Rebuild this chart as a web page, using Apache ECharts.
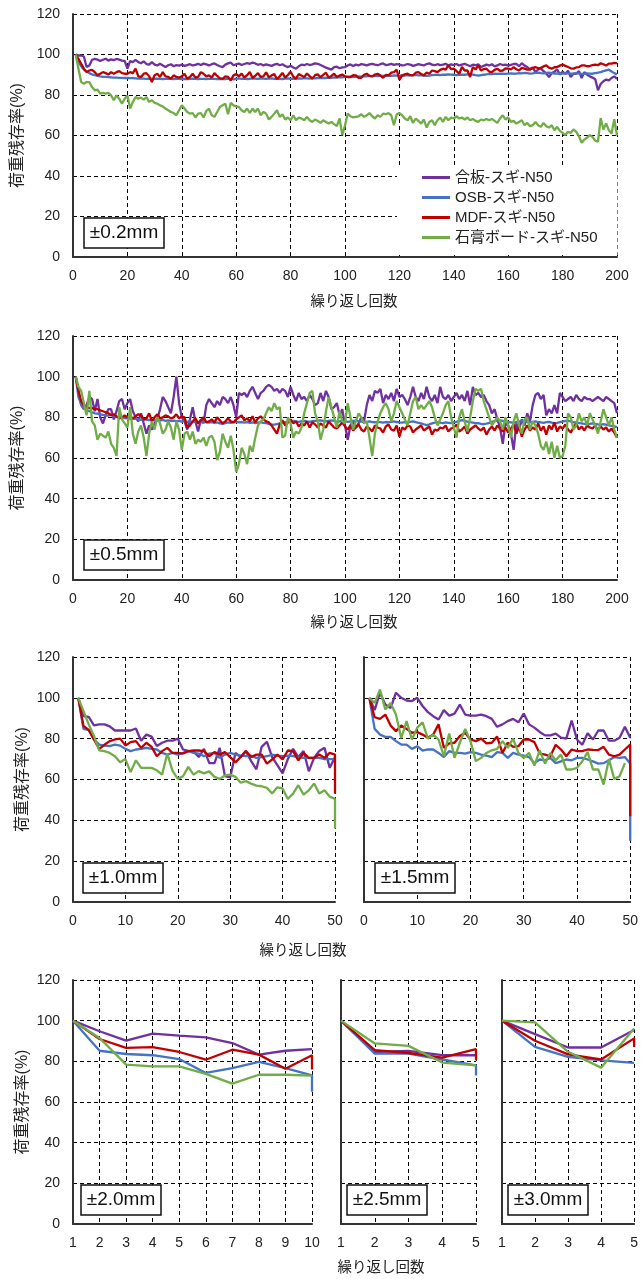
<!DOCTYPE html>
<html>
<head>
<meta charset="utf-8">
<title>荷重残存率</title>
<script src="https://cdn.jsdelivr.net/npm/echarts@6/dist/echarts.min.js"></script>
<style>
  html, body { margin: 0; padding: 0; background: #fff; }
  #chart { width: 641px; height: 1279px; }
</style>
</head>
<body>
<div id="chart"></div>
<script>
// 系列名と色（合板 / OSB / MDF / 石膏ボード）
var seriesNames = ['合板-スギ-N50', 'OSB-スギ-N50', 'MDF-スギ-N50', '石膏ボード-スギ-N50'];
var colors = ['#7030A0', '#4472C4', '#C00000', '#70AD47'];
var panelLabels = ['±0.2mm', '±0.5mm', '±1.0mm', '±1.5mm', '±2.0mm', '±2.5mm', '±3.0mm'];
var yName = '荷重残存率(%)';
var xName = '繰り返し回数';

// ±0.2mm (1〜200回)
var p02Gouhan = [
  100, 99.5, 99.5, 99, 93.8, 94.6, 97.4, 97.8, 97.5, 96.8,
  97.4, 97.9, 97, 97.6, 97.2, 97.8, 97.5, 97, 96.8, 93,
  96.7, 96.2, 97.3, 96.2, 95.7, 96.6, 95.3, 95, 96.2, 95,
  94.6, 95.4, 94.6, 93.8, 94.7, 95.2, 94.2, 94.8, 94.5, 95,
  94.4, 94.8, 95.2, 94.6, 94.9, 95.4, 94.8, 95.5, 95.1, 94.6,
  95.2, 95.6, 94.8, 94.2, 93.8, 95, 95.6, 96, 94.7, 95.2,
  95.5, 94.8, 95.3, 95.7, 95.4, 96, 95.6, 94.9, 95.3, 94.6,
  95.1, 94.8, 94.4, 95, 95.4, 94.7, 95.2, 94.3, 93.8, 94.4,
  93.6, 93, 94.2, 95, 94.7, 95.3, 94.8, 95.1, 95.6, 95.4,
  94.8, 94.2, 93.5, 93, 92.5, 93.8, 94, 93.2, 93.6, 93.8,
  94.6, 95.1, 94.3, 95, 94.6, 95.3, 95, 94.6, 95.1, 95.4,
  95, 94.7, 95.2, 95.6, 94.8, 95, 95.4, 94.9, 95.2, 95,
  94.6, 94.8, 95.3, 95, 94.4, 94.8, 95.2, 94.9, 94.6, 95.3,
  95.6, 95, 94.7, 95.2, 94.8, 95, 95.4, 94.6, 95.1, 94.8,
  95.3, 94.6, 95, 95.4, 94.8, 94.2, 95, 94.7, 95.2, 93.8,
  94.4, 95, 94.6, 95.2, 94.1, 94.6, 95.3, 94.8, 95, 94.5,
  94.9, 95.3, 95.4, 94.2, 95.7, 94.5, 93.8, 92.8, 93.6, 91.3,
  92.6, 93, 91.8, 90.6, 88.9, 90.8, 91.5, 92.6, 90.2, 91.5,
  90.4, 92, 88.9, 90.5, 90.5, 91.8, 88.4, 91.3, 90, 89.2,
  88.6, 87.8, 82.3, 85.4, 86.8, 87.6, 87.2, 88.4, 89.2, 88
];
var p02Osb = [
  100, 96.5, 94.2, 92.6, 91.6, 90.8, 90.2, 89.8, 89.5, 89.2,
  89, 88.9, 88.8, 88.7, 88.6, 88.6, 88.5, 88.5, 88.4, 88.4,
  88.3, 88.3, 88.2, 88.1, 88.2, 88.1, 88, 88.1, 88, 88,
  88.1, 88, 87.9, 88, 88.1, 88, 87.9, 88, 88, 87.9,
  88, 87.9, 88, 88.1, 88, 87.9, 88, 88, 87.9, 88,
  88.1, 88, 87.8, 87.9, 88, 87.8, 88.1, 88, 87.7, 88,
  88.2, 88, 88.1, 87.9, 88, 88.2, 88.1, 88, 88.2, 88.1,
  88, 88.1, 88.2, 88, 88.1, 88, 87.9, 88.1, 88.2, 88,
  88.1, 88, 88.2, 88.1, 88.3, 88.2, 88.1, 88.3, 88.2, 88.4,
  88.3, 88.5, 88.4, 88.6, 88.5, 88.7, 88.6, 88.8, 88.7, 88.9,
  89, 88.9, 89.1, 89, 89.2, 89.1, 89.3, 89.2, 89.4, 89.3,
  89.4, 89.3, 89.5, 89.4, 89.5, 89.6, 89.5, 89.7, 89.6, 89.6,
  89.7, 89.6, 89.8, 89.7, 89.8, 89.9, 89.7, 89.8, 89.6, 89.4,
  89.6, 89.8, 89.9, 90, 89.8, 90.1, 90, 90.2, 90.1, 90,
  89.8, 89.9, 90.1, 90, 90.2, 90.3, 90.1, 89.8, 89.6, 89.8,
  90, 90.2, 90.4, 90.3, 90.5, 90.4, 90.6, 90.5, 90.4, 90.6,
  90.7, 90.5, 90.6, 90.8, 90.7, 90.9, 90.8, 90.6, 90.7, 90.9,
  91, 90.8, 90.7, 90.9, 91, 90.8, 90.6, 90.7, 90.5, 90.6,
  90.8, 90.7, 90.5, 90.6, 90.8, 90.6, 90.4, 90.5, 90.7, 90.6,
  90.5, 90.8, 91, 91.3, 91.8, 92.2, 92.5, 91.6, 90.8, 90.2
];
var p02Mdf = [
  100, 97.9, 95.4, 93, 91.3, 92.1, 92.4, 91.3, 89.7, 90.5,
  91.3, 90.8, 90.1, 91.3, 90.5, 91.3, 91.8, 90.8, 90.5, 90.5,
  91.3, 90.8, 93, 89.2, 88.9, 90.5, 90.8, 89.2, 86.4, 89.8,
  90.5, 88.9, 91.3, 89.2, 88.9, 88, 89.7, 88.9, 88.6, 89.2,
  90.5, 88, 88.9, 90.5, 88.6, 88.9, 91.3, 90.5, 89.2, 89.7,
  88.6, 90.8, 89.4, 88.2, 88, 89.2, 88.9, 87.2, 89.7, 90.3,
  89.2, 90.6, 88.6, 89.8, 91.4, 88.4, 89.5, 90.8, 88.9, 89.2,
  91.2, 88.7, 89.6, 90.4, 87.8, 89.3, 90.9, 88.6, 89.9, 91.5,
  89, 88.2, 90.3, 89.6, 88.8, 90.6, 89.3, 88.1, 89.8, 90.2,
  88.8, 89.9, 91, 88.6, 89.4, 90.5, 88.9, 89.6, 90.1, 89.2,
  88.9, 88.9, 89.8, 89.7, 88.5, 88.5, 90, 90.5, 89.4, 89.2,
  90.1, 90.5, 89.6, 88.5, 89.9, 89.7, 91, 91.3, 92.5, 87.5,
  89.7, 90.2, 90.5, 89.8, 89.7, 91, 91.3, 90.4, 89.7, 91.1,
  90.5, 92.1, 91.8, 91.3, 92.4, 93, 92.5, 94.6, 92.8, 93,
  91.8, 90.5, 93.8, 92.1, 92.1, 88.9, 93.8, 92.6, 94.6, 92.1,
  92.8, 93, 91.6, 91.3, 92.4, 93, 91.9, 92.1, 93.2, 93,
  92.6, 93.8, 92.7, 92.1, 93.4, 93, 92.5, 92.5, 93.3, 93.8,
  93.2, 93.4, 94.1, 94.6, 93.5, 93, 93.7, 93.8, 94.5, 95,
  94.4, 93.8, 93.2, 93, 93.6, 93.8, 94.6, 94.6, 94.2, 94.3,
  94.8, 95, 94.7, 95.7, 95.2, 94.6, 95.5, 95.5, 95.9, 95.7
];
var p02Sekko = [
  100, 93, 86.4, 85.6, 86.4, 86.4, 83.9, 82.3, 82.6, 80.7,
  81, 80.7, 81, 79.8, 77.4, 79.8, 78.2, 75.7, 78.2, 79.8,
  73.3, 76.6, 79, 78.2, 78.7, 77.7, 79, 76.6, 77.4, 76.1,
  75.7, 74.9, 74.4, 73.3, 72.5, 71.6, 71.1, 70, 72.5, 74.9,
  73.3, 71.6, 70.8, 71.1, 68.9, 70.8, 71.1, 68.9, 72.1, 73.3,
  70, 69.2, 71.6, 74.1, 74.9, 75.7, 70.5, 76.1, 74.9, 74.4,
  74.1, 72.5, 71.6, 73.3, 71.1, 73.3, 71.6, 73.3, 70, 71.6,
  70.8, 67.9, 69.2, 70.8, 72.5, 69.2, 70.5, 67.9, 68.9, 67.5,
  70, 67.5, 68.9, 68.4, 67.5, 69.2, 67.5, 66.7, 67.9, 67.2,
  66.2, 67.5, 66.7, 65.9, 66.7, 65.6, 64.6, 68.4, 60.2, 65,
  70.8, 69.5, 68.9, 69.2, 69.5, 70.5, 69.2, 70, 71.1, 69.5,
  68.4, 70, 69.2, 70.8, 70.5, 71.1, 70, 65.1, 70.5, 71.1,
  70, 68.4, 67.5, 69.5, 66.2, 68.4, 67.2, 65.9, 67.9, 63.9,
  66.7, 67.5, 65.1, 67.5, 68.9, 66.7, 69.2, 67.5, 68.9, 68.4,
  69.5, 68.4, 68.9, 67.9, 68.9, 67.5, 68.2, 67.2, 66.7, 67.9,
  67.5, 68.2, 67.5, 68.2, 67.2, 66.2, 68.4, 70, 67.9, 68.9,
  66.7, 67.2, 65.9, 66.7, 67.5, 65.1, 66.2, 64.6, 65.1, 66.7,
  65.1, 64.3, 66.2, 64.6, 63.9, 65.1, 62.6, 64.3, 62.3, 61.3,
  60.2, 61.8, 61.3, 63, 61.8, 59.7, 56.4, 58, 59, 60.2,
  59.3, 57.4, 57, 68.6, 63, 66, 62.6, 61, 68, 60
];

// ±0.5mm (1〜200回)
var p05Gouhan = [
  100, 93, 86, 84, 86, 90, 89, 83, 89, 80,
  77, 81, 84, 84, 79, 83, 88, 89, 84, 87,
  89, 83, 80, 78, 82, 77, 72, 76, 74, 77,
  79, 84, 90, 88, 85, 82, 90, 100, 87, 80,
  78, 74, 79, 85, 78, 73, 79, 77, 86, 89,
  87, 85, 88, 86, 90, 89, 87, 90, 86, 80,
  92, 91, 92, 90, 93, 95, 92, 89, 92, 93,
  95, 96, 95, 93, 94, 92, 94, 93, 90, 95,
  91, 88, 92, 89, 90, 88, 91, 89, 86, 87,
  92, 88, 93, 90, 84, 85, 87, 81, 84, 76,
  69, 76, 78, 75, 77, 80, 78, 86, 91, 88,
  93, 92, 94, 87, 91, 89, 92, 88, 94, 90,
  91, 89, 86, 90, 95, 90, 88, 92, 89, 95,
  90, 88, 91, 87, 95, 90, 89, 91, 88, 90,
  92, 89, 91, 88, 93, 86, 95, 91, 92, 90,
  91, 88, 86, 82, 84, 79, 75, 67, 77, 76,
  72, 64, 77, 74, 79, 76, 82, 78, 86, 91,
  92, 89, 91, 81, 84, 82, 86, 82, 92, 90,
  88, 89, 90, 88, 91, 89, 88, 90, 89, 89,
  88, 89, 90, 89, 88, 90, 89, 88, 87, 82
];
var p05Osb = [
  100, 90, 86.5, 84.5, 83.5, 83, 82.5, 82, 81.8, 81.5,
  81.2, 81, 80.8, 81.5, 80.6, 80.2, 80, 79.8, 79.6, 79.5,
  79.4, 79.2, 79.3, 79, 78.8, 79, 78.9, 78.6, 78.8, 78.5,
  78.6, 78.4, 78.7, 78.3, 78.5, 78.2, 78.4, 78.1, 78.3, 77.9,
  78.2, 77.8, 78.1, 77.6, 78, 77.8, 77.5, 77.9, 77.7, 77.4,
  77.6, 77.3, 77.5, 77, 76.8, 77.2, 77.5, 77.3, 77.6, 77.8,
  77.5, 77.7, 77.4, 77.6, 77.3, 77.5, 77.2, 77.4, 77.6, 77.3,
  77.1, 76.8, 76.5, 76.4, 76.7, 77, 77.3, 77.6, 77.8, 78,
  78.2, 78, 77.8, 78.1, 78.3, 78, 77.8, 78.1, 78.3, 78.4,
  78.5, 78.2, 78, 78.3, 78.5, 78.2, 77.8, 78, 78.2, 78,
  77.8, 78, 78.2, 78.4, 78.1, 77.9, 77.6, 77.8, 78, 77.7,
  77.5, 77.8, 77.6, 77.4, 77.7, 77.5, 77.8, 78, 77.7, 77.5,
  77.4, 77.6, 77.5, 77.8, 78, 77.6, 77.3, 77, 76.6, 76.2,
  76.5, 77, 77.4, 77.6, 77.4, 77.2, 77.5, 77.3, 77.1, 77.6,
  77.8, 78.3, 78.6, 78.2, 77.9, 77.6, 77.4, 77.2, 77.1, 76.8,
  76.6, 76.9, 77.3, 77.8, 78.1, 78.4, 78.5, 78.2, 78, 77.7,
  77.5, 77.3, 77.6, 77.9, 78.2, 78, 77.7, 77.5, 77.8, 78,
  77.7, 77.5, 77.3, 77.6, 77.8, 77.4, 77.1, 77.3, 77.6, 77.9,
  78.2, 78.4, 78, 77.7, 77.4, 77.2, 77, 76.8, 76.6, 76.8,
  77, 76.8, 76.5, 76.3, 76.6, 76.4, 76, 75.8, 75.5, 75.2
];
var p05Mdf = [
  100, 93, 88, 86, 85, 84.5, 84.5, 84, 84, 83.5,
  83, 82.5, 82, 81, 81.5, 80.5, 79.5, 80, 81, 80,
  80.5, 79.5, 80.5, 81.5, 81, 79, 79.5, 82, 78, 80,
  81.5, 79.5, 80, 81, 80.5, 79.5, 80, 81.5, 79.5, 80.5,
  80, 75, 76, 78, 79.5, 77, 78.5, 80, 77.5, 78,
  79, 77.5, 80, 78.5, 77, 78, 79.5, 78, 77.5, 79,
  80, 81, 78.5, 79.5, 78, 80.5, 77.5, 79.5, 80.5, 79,
  78, 77.5, 76, 74, 72, 76.5, 78.5, 76, 77.5, 79,
  77, 78, 75.5, 77, 76, 78, 75, 77.5, 76.5, 75,
  77, 76, 75, 78, 76.5, 75, 74.5, 76, 77.5, 75.5,
  74, 76, 73.5, 75, 76.5, 74, 73, 75.5, 74.5, 73,
  76, 75, 74.5, 72.5, 75.5, 76.5, 74, 73.5, 76, 70.5,
  75, 74, 76, 75.5, 72.5, 74, 75, 76, 73.5, 74.5,
  75.5, 71.5, 74, 73.5, 75, 74.5, 76, 73, 74.5, 75,
  76.5, 73, 74, 75.5, 72, 74, 75, 76, 74.5, 73.5,
  75, 71.5, 74, 75.5, 73.5, 76, 74.5, 73, 75, 72.5,
  74.5, 76.5, 72, 75.5, 70.5, 74, 76, 73.5, 75, 74,
  77, 73.5, 75.5, 71.5, 76, 74, 77.5, 73, 75.5, 74.5,
  76.5, 74, 72.5, 75, 77, 74, 75.5, 73.5, 76, 75,
  74.5, 76, 73.5, 75.5, 74, 75, 73, 74.5, 72.5, 70
];
var p05Sekko = [
  100, 95, 93, 87, 81, 93, 78, 76, 69, 72,
  71, 70, 73, 67, 65, 61, 85, 79, 77, 75,
  85, 72, 67, 73, 76, 70, 61, 72, 78, 74,
  80, 77, 72, 74, 78, 75, 69, 78, 74, 64,
  72, 73, 69, 73, 67, 69, 68, 70, 66, 70,
  71, 68, 59, 63, 72, 68, 65, 71, 64, 53,
  57, 65, 62, 57, 66, 63, 70, 76, 78, 79,
  82, 85, 83, 87, 84, 85, 70, 71, 80, 77,
  70, 73, 72, 75, 82, 87, 92, 93, 82, 78,
  69, 74, 83, 90, 85, 80, 75, 83, 78, 77,
  87, 80, 74, 78, 82, 80, 77, 78, 70, 61,
  72, 78, 82, 85, 87, 84, 78, 82, 88, 85,
  82, 79, 76, 82, 88, 90, 84, 86, 84, 86,
  88, 85, 80, 76, 79, 82, 86, 88, 80, 75,
  70, 80, 84, 78, 73, 80, 88, 94, 93, 94,
  88, 84, 80, 76, 78, 80, 78, 74, 80, 76,
  70, 78, 82, 76, 72, 79, 80, 74, 78, 76,
  72, 66, 64, 68, 62, 68, 60, 66, 60, 61,
  66, 82, 80, 74, 76, 82, 78, 80, 76, 82,
  79, 76, 72, 78, 84, 80, 76, 80, 74, 70
];

// ±1.0mm (1〜50回)
var p10Gouhan = [
  100, 91, 90.7, 86.5, 87, 87, 86, 84, 84, 84,
  84, 85, 79, 82, 81, 76.4, 78, 79, 79, 80,
  74.7, 74, 73.7, 71, 75, 68, 68, 75.5, 61.6, 61,
  73, 71, 74, 69, 65, 76, 78.5, 71, 67, 63,
  70, 75, 71, 74, 64, 70.6, 74, 75.5, 65.7, 71
];
var p10Osb = [
  100, 84.8, 84.2, 79.6, 77.1, 76.6, 76.3, 77.1, 76.6, 75,
  73.9, 74.7, 75, 75.5, 75, 74.7, 73, 72.2, 73, 72.2,
  73, 73.9, 73, 72.7, 71.4, 72.7, 73, 70.6, 72.2, 73,
  72.2, 71.7, 71.4, 71.7, 70.6, 71, 71.4, 72.2, 71.7, 71.4,
  71.7, 71.4, 71, 70.6, 70.6, 70.6, 70.6, 70, 70, 70
];
var p10Mdf = [
  100, 86.2, 84.3, 79.6, 75, 77, 78.8, 79.6, 80, 76.7,
  78.3, 78.8, 75.5, 78, 76, 71.4, 73.9, 75.5, 73, 73,
  72.7, 73.9, 74.2, 74.2, 73.9, 71.4, 73.4, 72.2, 73.4, 71,
  68.4, 71, 73.9, 71, 72.2, 72.2, 67.8, 69.8, 72.2, 69.8,
  74.2, 73.9, 69.4, 73, 70.6, 70.6, 72.2, 70.6, 73, 72.2
];
var p10Sekko = [
  100, 93.5, 87, 81.3, 74.3, 73.9, 73, 71.4, 68.4, 70,
  63.6, 69.4, 65.7, 65.7, 65.7, 64.5, 62.4, 72.7, 64.2, 60.3,
  61.6, 66.2, 62.4, 64.1, 63, 64, 61.3, 60.3, 62, 62.4,
  61.3, 58.4, 59.2, 58, 57, 56.7, 55.9, 53.1, 56.2, 55.6,
  50.5, 53.1, 57.2, 52.6, 54.7, 58, 53.1, 54.7, 51.6, 50.5
];

// ±1.5mm (1〜50回、石膏ボードは49回まで)
var p15Gouhan = [
  100, 94, 102.5, 96.7, 95, 102.5, 100, 98.7, 98.4, 100,
  96, 93, 91, 89.4, 94, 91.3, 92.3, 96.7, 91.8, 91.3,
  91.3, 91.8, 91, 89.7, 85.8, 87, 88.6, 89.7, 88, 92.3,
  87, 85.4, 83.3, 81.6, 81.6, 82.5, 80.5, 80, 88.9, 79.6,
  77, 82.6, 79.6, 84, 84, 79, 79, 80.4, 85.8, 80.4
];
var p15Osb = [
  100, 84.8, 82, 80.9, 80.9, 78.8, 77.1, 77.1, 75, 76.3,
  74.2, 74.7, 74.7, 73, 71, 73.9, 73, 73, 72.7, 73.4,
  73, 72.2, 71.7, 71, 73.4, 73, 70.6, 73, 72.2, 71.7,
  71, 68, 69.8, 69.4, 70.6, 68, 68.9, 69.8, 69.4, 70.6,
  70.6, 69.8, 68.9, 67.8, 68, 69.4, 71, 70.6, 71, 67.8
];
var p15Mdf = [
  100, 90.5, 89.7, 91.8, 86.4, 83.7, 86.4, 84.8, 82.9, 83.2,
  82, 80.4, 82, 87, 75.5, 77.7, 78, 81.3, 82.9, 79.6,
  78.8, 80, 77.7, 78, 81, 73, 78, 76, 76.3, 79.6,
  79.6, 78.3, 72.7, 72.2, 71.4, 77, 74.7, 71.4, 74.7, 73.9,
  73.9, 74.7, 74.5, 74.4, 76, 72.2, 71.4, 72.2, 74.7, 77.1
];
var p15Sekko = [
  100, 97.5, 104, 94.3, 97.5, 91.8, 80.2, 88.6, 79.6, 85.4,
  88, 80, 82, 79.6, 71.4, 82.5, 70.6, 78, 84.8, 78.8,
  69, 70.6, 73, 74.3, 75, 78.8, 75.5, 80, 73, 70.6,
  73, 66.8, 74.3, 67.8, 73, 69.4, 72.2, 64.9, 64.9, 65.7,
  69, 73.4, 64.9, 65, 57.5, 70, 60.3, 61.6, 68
];

// ±2.0mm (1〜10回)
var p20Gouhan = [100, 94.8, 90.2, 93.6, 92.6, 91.8, 89, 83.3, 85.2, 86];
var p20Osb = [100, 85.2, 83.6, 83, 81.1, 74.3, 76.7, 79.7, 76.7, 73.1];
var p20Mdf = [100, 91, 86.6, 87, 84.6, 80.8, 85.7, 83.3, 76.4, 83];
var p20Sekko = [100, 91.5, 78.4, 77.5, 77.5, 73.8, 69, 73.4, 73.4, 73];

// ±2.5mm (1〜5回)
var p25Gouhan = [100, 84.6, 85.1, 83, 83];
var p25Osb = [100, 83.8, 83.8, 80.9, 78];
var p25Mdf = [100, 85.5, 84.1, 81.8, 86];
var p25Sekko = [100, 88.8, 87.6, 79.4, 78];

// ±3.0mm (1〜5回)
var p30Gouhan = [100, 93.4, 86.8, 86.8, 95.4];
var p30Osb = [100, 87.1, 82.2, 80.5, 79.2];
var p30Mdf = [100, 90.1, 83.4, 80.9, 91.3];
var p30Sekko = [100, 99.2, 84.7, 76.9, 96.2];

// 最終回の急落（グラフ右端で縦に落ちる部分）、null は無し
var p10Drop = [null, null, 53, 36];
var p15Drop = [null, 30, 42, null];
var p20Drop = [null, 65, 76, null];
var p25Drop = [null, 73, 80.5, null];
var p30Drop = [null, null, 87, null];

var panelData = [
  [p02Gouhan, p02Osb, p02Mdf, p02Sekko],
  [p05Gouhan, p05Osb, p05Mdf, p05Sekko],
  [p10Gouhan, p10Osb, p10Mdf, p10Sekko],
  [p15Gouhan, p15Osb, p15Mdf, p15Sekko],
  [p20Gouhan, p20Osb, p20Mdf, p20Sekko],
  [p25Gouhan, p25Osb, p25Mdf, p25Sekko],
  [p30Gouhan, p30Osb, p30Mdf, p30Sekko]
];
var panelDrops = [null, null, p10Drop, p15Drop, p20Drop, p25Drop, p30Drop];

// レイアウト
var grids = [
  { left: 73, top: 14, width: 544, height: 243 },
  { left: 73, top: 336, width: 544, height: 244 },
  { left: 73, top: 657, width: 262, height: 245 },
  { left: 364, top: 657, width: 269, height: 245 },
  { left: 73, top: 980, width: 239, height: 244 },
  { left: 341, top: 980, width: 135, height: 244 },
  { left: 502, top: 980, width: 135, height: 244 }
];
var xRanges = [[0, 200, 20], [0, 200, 20], [0, 50, 10], [0, 50, 10], [1, 10, 1], [1, 5, 1], [1, 5, 1]];
var showYLabel = [true, true, true, false, true, false, false];
var labelBoxes = [[84, 218], [84, 540], [83, 863], [375, 863], [81, 1185], [347, 1185], [508, 1185]];

var font = "'Liberation Sans', 'Noto Sans CJK JP', sans-serif";
var textColor = '#222';
var dashed = { color: '#000', width: 1, type: [4, 3] };

var xAxes = [], yAxes = [], series = [], graphics = [];

grids.forEach(function (g, i) {
  xAxes.push({
    gridIndex: i,
    type: 'value',
    min: xRanges[i][0],
    max: xRanges[i][1],
    interval: xRanges[i][2],
    axisLine: { lineStyle: { color: '#333', width: 2 } },
    axisTick: { show: false },
    axisLabel: { color: textColor, fontSize: 14, fontFamily: font, margin: 12 },
    splitLine: { show: true, lineStyle: dashed }
  });
  yAxes.push({
    gridIndex: i,
    type: 'value',
    min: 0,
    max: 120,
    interval: 20,
    name: showYLabel[i] ? yName : '',
    nameLocation: 'middle',
    nameGap: 42,
    nameTextStyle: { color: textColor, fontSize: 16, fontFamily: font },
    axisLine: { show: true, lineStyle: { color: '#333', width: 2 } },
    axisTick: { show: false },
    axisLabel: { show: showYLabel[i], color: textColor, fontSize: 14, fontFamily: font, margin: 13 },
    splitLine: { show: true, lineStyle: dashed }
  });

  var sets = panelData[i];
  var drops = panelDrops[i];
  sets.forEach(function (vals, k) {
    var pts = vals.map(function (v, n) { return [n + 1, v]; });
    if (drops && drops[k] != null) {
      pts.push([xRanges[i][1], drops[k]]);
    }
    series.push({
      name: seriesNames[k],
      type: 'line',
      xAxisIndex: i,
      yAxisIndex: i,
      data: pts,
      showSymbol: false,
      symbol: 'none',
      clip: true,
      lineStyle: { color: colors[k], width: 2.3 },
      itemStyle: { color: colors[k] },
      z: 2 + k
    });
  });

  // ±○mm のラベル枠
  graphics.push({
    type: 'rect',
    z: 100,
    shape: { x: labelBoxes[i][0], y: labelBoxes[i][1], width: 80, height: 30 },
    style: { fill: '#fff', stroke: '#111', lineWidth: 1.5 }
  });
  graphics.push({
    type: 'text',
    z: 101,
    x: labelBoxes[i][0] + 40,
    y: labelBoxes[i][1] + 15,
    style: {
      text: panelLabels[i], fill: '#111', font: '19px ' + font,
      textAlign: 'center', textVerticalAlign: 'middle'
    }
  });
});

// 横軸タイトル
[[354, 302], [354, 623], [303, 951], [381, 1268]].forEach(function (p) {
  graphics.push({
    type: 'text',
    z: 100,
    x: p[0],
    y: p[1],
    style: {
      text: xName, fill: textColor, font: '14.5px ' + font,
      textAlign: 'center', textVerticalAlign: 'middle'
    }
  });
});

var chart = echarts.init(document.getElementById('chart'));
chart.setOption({
  animation: false,
  backgroundColor: '#fff',
  textStyle: { fontFamily: font },
  grid: grids,
  xAxis: xAxes,
  yAxis: yAxes,
  legend: {
    data: seriesNames,
    orient: 'vertical',
    left: 397,
    top: 165,
    padding: [5, 20, 10, 25],
    itemGap: 5,
    itemWidth: 28,
    itemHeight: 3,
    icon: 'rect',
    backgroundColor: '#fff',
    textStyle: { color: textColor, fontSize: 15, lineHeight: 15, fontFamily: font }
  },
  series: series,
  graphic: graphics
});
</script>
</body>
</html>
